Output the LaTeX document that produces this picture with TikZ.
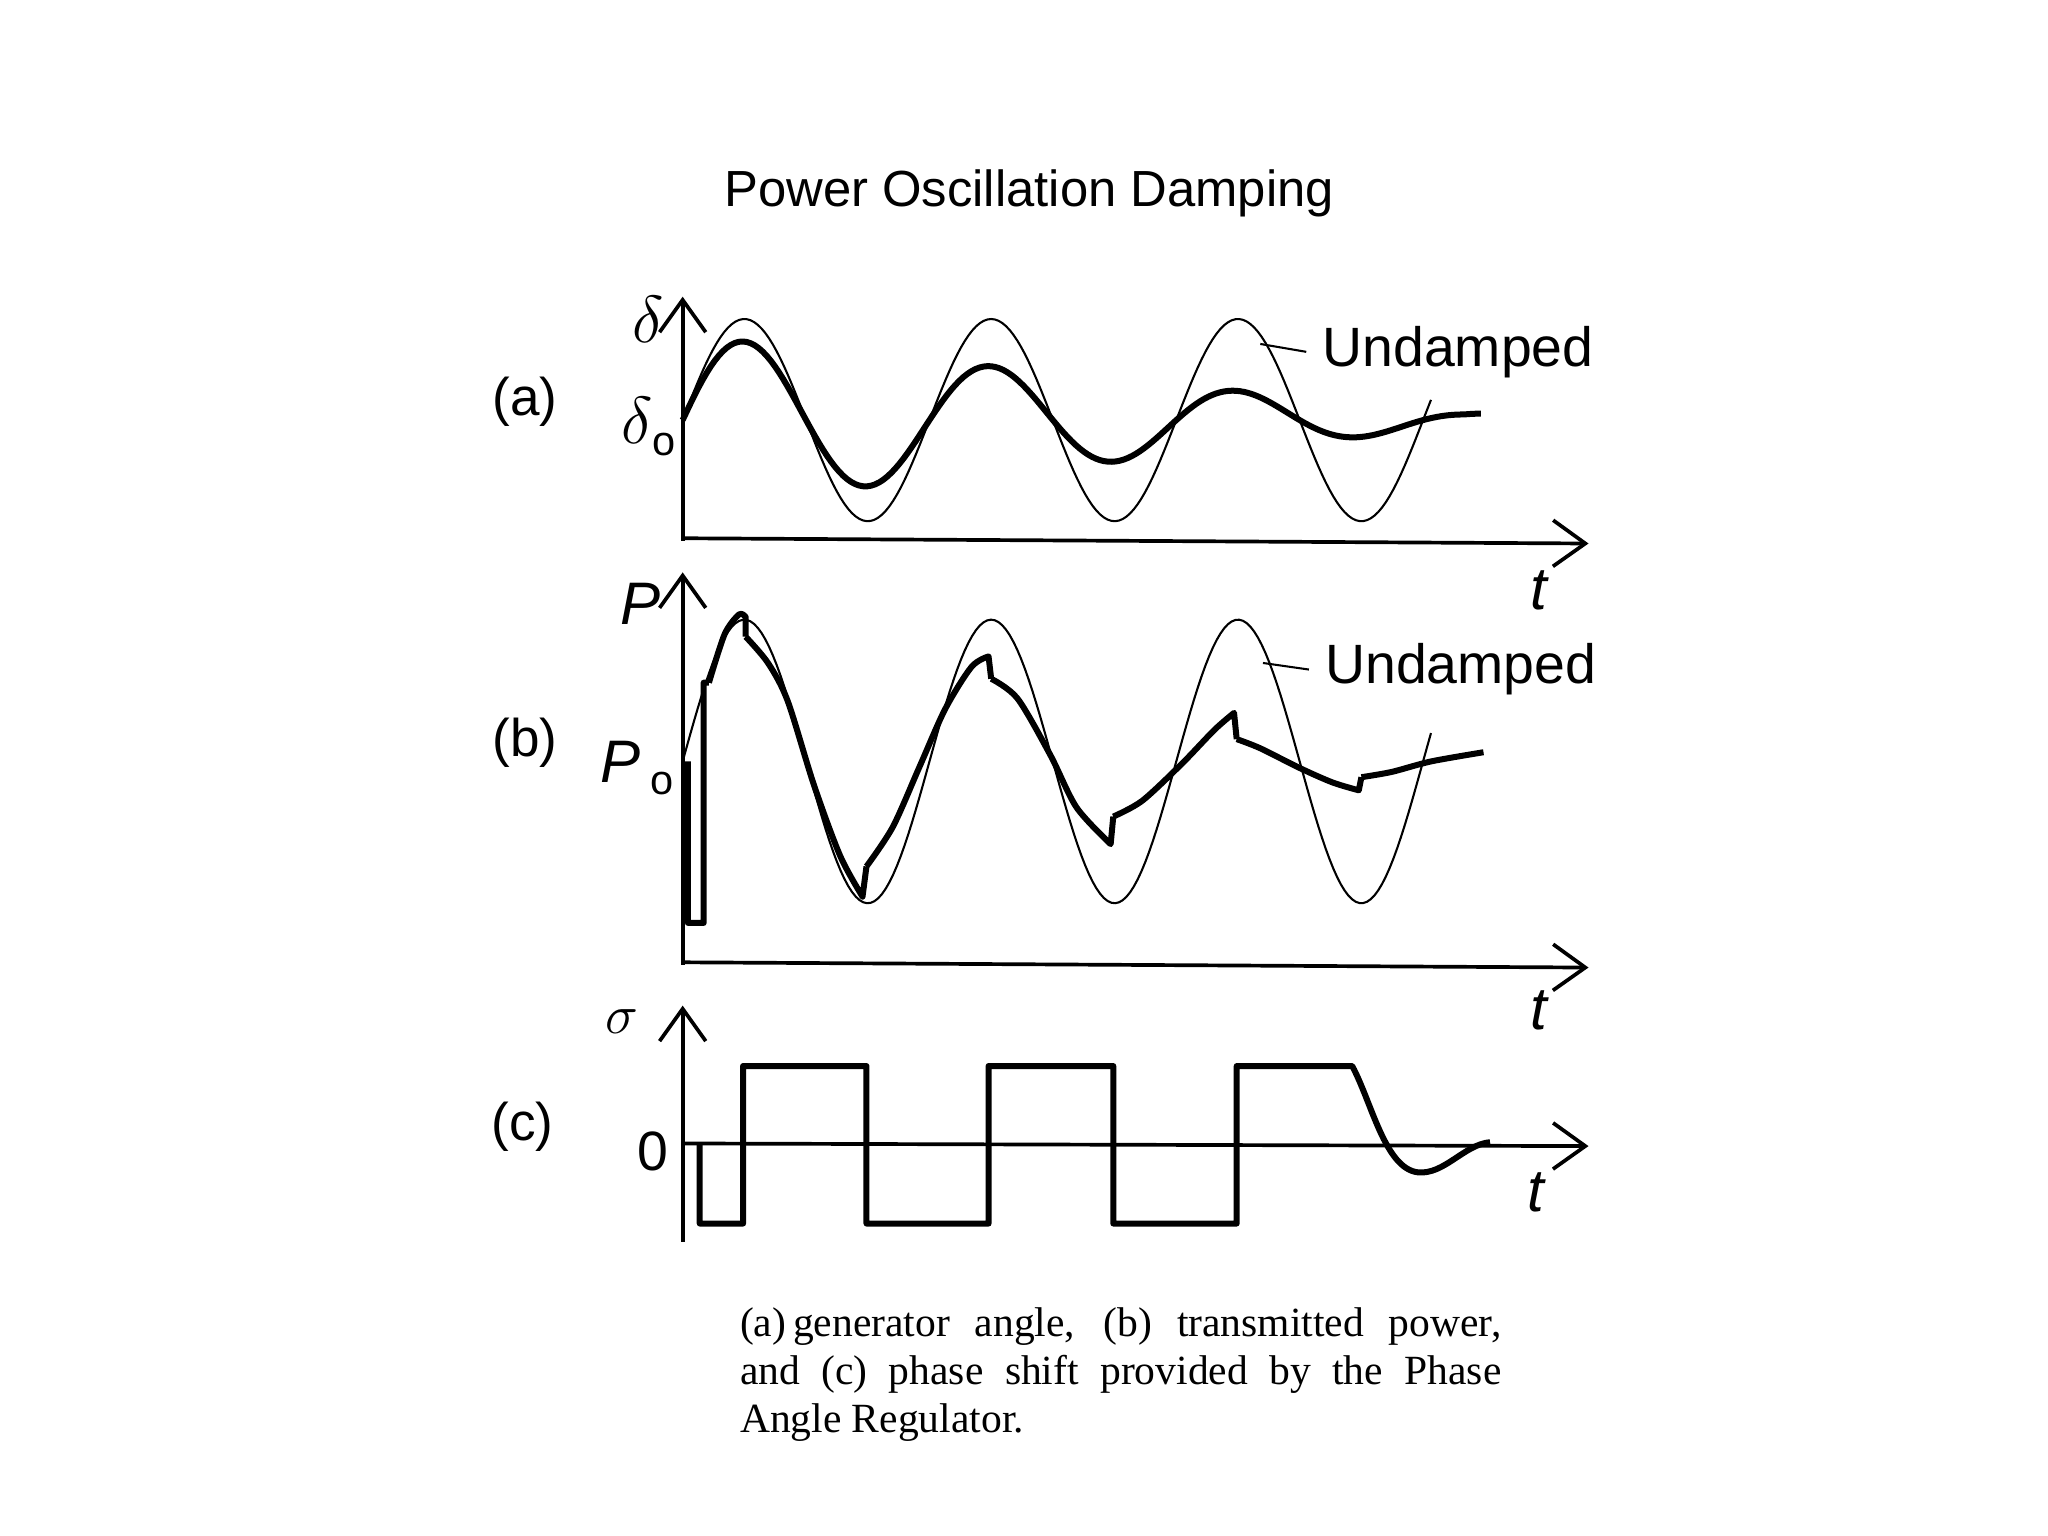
\documentclass[tikz,border=0pt]{standalone}
\usepackage{fontspec}
\setmainfont{Liberation Serif}
\setsansfont{Liberation Sans}
\usetikzlibrary{arrows.meta}
\begin{document}
\begin{tikzpicture}[x=0.01cm,y=-0.01cm,
  axis/.style={line width=0.8pt,-{Straight Barb[length=7pt,width=10pt]}},
  thin/.style={line width=0.45pt},
  thick/.style={line width=1.3pt,line join=round},
  lab/.style={font=\sffamily\fontsize{11.5}{13}\selectfont},
  und/.style={font=\sffamily\fontsize{12}{14}\selectfont,anchor=west},
  tl/.style={font=\sffamily\itshape\fontsize{13}{15}\selectfont}]
\useasboundingbox (0,0) rectangle (1560,1170);
\node[font=\sffamily\fontsize{11}{13}\selectfont] (title) at (784,147) {Power Oscillation Damping};
% ---------- (a)
\draw[axis] (520,412) -- (520,226);
\draw[axis] (520,410) -- (1210,414);
\node[lab] (la) at (400,306) {(a)};
\node[font=\fontsize{13.5}{15}\selectfont] (da) at (494,243) {$\delta$};
\node[font=\fontsize{13.5}{15}\selectfont] (d0) at (494,325) {$\delta$\raisebox{-0.4ex}{\sffamily\fontsize{9}{10}\selectfont o}};
\node[tl] (ta) at (1172,450) {t};
\draw[thin] plot[domain=520:1090,samples=200] (\x,{320-77*sin(1.915*(\x-520))});
\draw[thick] plot[domain=520:1128,samples=200] (\x,{320-max(5,64.5-0.1*(\x-520))*sin(1.915*(\x-520))});
\node[und] (ua) at (995,268) {Undamped};
\coordinate (ca) at (960,262);
\draw[thin] (ca) -- (ua.west);
% ---------- (b)
\draw[axis] (520,735) -- (520,436);
\draw[axis] (520,733) -- (1210,737);
\node[lab] (lb) at (400,566) {(b)};
\node[font=\sffamily\itshape\fontsize{13}{15}\selectfont] (pb) at (488,460) {P};
\node[font=\sffamily\itshape\fontsize{13}{15}\selectfont] (p0) at (485,585) {P\,\raisebox{-0.4ex}{\upshape\fontsize{9}{10}\selectfont o}};
\node[tl] (tb) at (1172,770) {t};
\draw[thin] plot[domain=520:1090,samples=200] (\x,{580-108*sin(1.915*(\x-520))});
\node[und] (ub) at (997,510) {Undamped};
\coordinate (cb) at (962,505);
\draw[thin] (cb) -- (ub.west);
\draw[thick] (524,580) -- (524,703) -- (536,703) -- (536,520) -- (540,520)
  plot[smooth] coordinates {(540,520) (552,483) (563,468) (568,470)}
  -- (568,485)
  plot[smooth] coordinates {(568,485) (585,505) (600,534) (620,598) (640,652) (657,683)}
  -- (660,660)
  plot[smooth] coordinates {(660,660) (680,630) (700,585) (720,540) (740,508) (753,500)}
  -- (755,517)
  plot[smooth] coordinates {(755,517) (775,532) (800,575) (820,615) (846,643)}
  -- (848,622)
  plot[smooth] coordinates {(848,622) (870,610) (900,582) (925,556) (940,543)}
  -- (942,563)
  plot[smooth] coordinates {(942,563) (960,570) (990,585) (1015,596) (1035,602)}
  -- (1037,592)
  plot[smooth] coordinates {(1037,592) (1060,588) (1090,580) (1130,573)};
% ---------- (c)
\draw[axis] (520,946) -- (520,766);
\draw[axis] (520,871) -- (1210,873);
\node[lab] (lc) at (398,858) {(c)};
\node[font=\fontsize{13}{15}\selectfont] (sg) at (474,778) {$\sigma$};
\node[font=\sffamily\fontsize{12}{14}\selectfont] (z0) at (497,877) {0};
\node[tl] (tc) at (1170,908) {t};
\draw[thick] (533,872) -- (533,932) -- (566,932) -- (566,812) -- (660,812) -- (660,932)
  -- (753,932) -- (753,812) -- (848,812) -- (848,932) -- (942,932) -- (942,812)
  -- (1030,812) .. controls (1045,840) and (1055,890) .. (1080,893)
  .. controls (1100,895) and (1115,872) .. (1135,870);
% ---------- caption
\node[anchor=north west,inner sep=0pt,align=left,font=\fontsize{9}{10.5}\selectfont] (cap) at (563,995)
  {\makebox[580\dimexpr0.01cm\relax][s]{(a)\,generator angle, (b) transmitted power,}\\
   \makebox[580\dimexpr0.01cm\relax][s]{and (c) phase shift provided by the Phase}\\
   Angle Regulator.};
\end{tikzpicture}
\end{document}
